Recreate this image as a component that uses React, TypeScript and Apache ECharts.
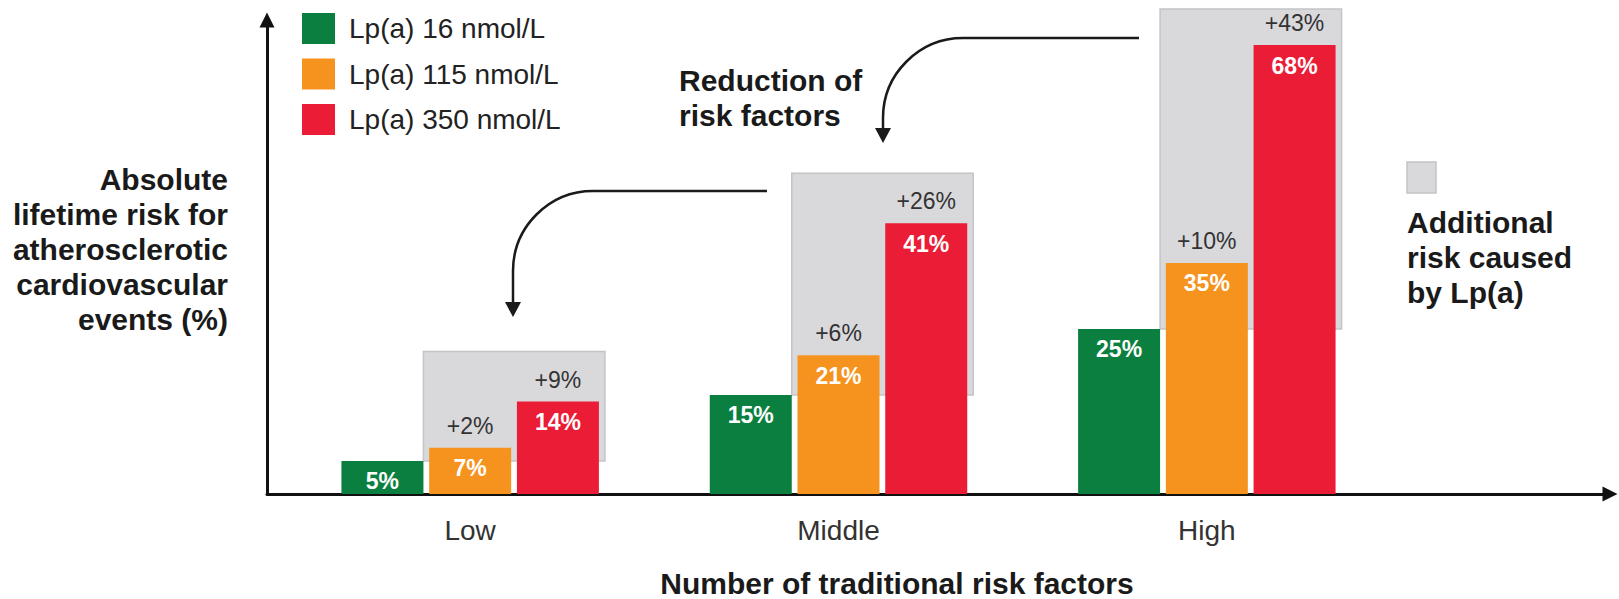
import React, { useEffect, useRef } from "react";
import * as echarts from "echarts";

const categories = ["Low", "Middle", "High"];
const seriesNames = ["Lp(a) 16 nmol/L", "Lp(a) 115 nmol/L", "Lp(a) 350 nmol/L"];
const lp16 = [5, 15, 25];
const lp115 = [7, 21, 35];
const lp350 = [14, 41, 68];
const colors = ["#0b7f40", "#f6921e", "#ea1c36"];
const yTitleLines = ["Absolute", "lifetime risk for", "atherosclerotic", "cardiovascular", "events (%)"];
const xTitle = "Number of traditional risk factors";
const noteLines = ["Reduction of", "risk factors"];
const extraLegendLines = ["Additional", "risk caused", "by Lp(a)"];

const FONT = '"Liberation Sans", Arial, Helvetica, sans-serif';
const BAR_W = 82;
const GAP_PCT = 7;
const GAP = (BAR_W * GAP_PCT) / 100;
const GROUP_W = BAR_W * 3 + GAP * 2;

export default function App() {
  const ref = useRef<HTMLDivElement>(null);
  useEffect(() => {
    if (!ref.current) return;
    const chart = echarts.init(ref.current, null, { renderer: "svg" });
    const allValues = [lp16, lp115, lp350];
    const boxData = categories.map((_, i) => [i, lp16[i], lp115[i], lp350[i]]);

    const option: any = {
      animation: false,
      backgroundColor: "#ffffff",
      textStyle: { fontFamily: FONT },
      legend: {
        data: seriesNames,
        orient: "vertical",
        left: 302,
        top: 13,
        padding: 0,
        itemWidth: 33,
        itemHeight: 31,
        itemGap: 14.5,
        icon: "rect",
        selectedMode: false,
        textStyle: { fontSize: 28, color: "#222", fontFamily: FONT, padding: [0, 0, 0, 9] },
      },
      grid: [
        { left: 286, right: 228, top: 12, bottom: 105, containLabel: false, outerBoundsMode: "none" },
        { left: 267, right: 9, top: 20, bottom: 105, containLabel: false, outerBoundsMode: "none" },
      ],
      xAxis: [
        {
          gridIndex: 0,
          type: "category",
          data: categories,
          axisLine: { show: false },
          axisTick: { show: false },
          axisLabel: { fontSize: 28, color: "#333", margin: 22, fontFamily: FONT },
          name: xTitle,
          nameLocation: "middle",
          nameGap: 77,
          nameTextStyle: {
            fontSize: 30,
            fontWeight: "bold",
            lineHeight: 24,
            color: "#1a1a1a",
            padding: [0, 0, 0, 117],
            fontFamily: FONT,
          },
        },
        {
          gridIndex: 1,
          type: "value",
          min: 0,
          max: 1,
          axisLine: { show: true, symbol: ["none", "triangle"], symbolSize: [15, 15], lineStyle: { color: "#111", width: 3 } },
          axisTick: { show: false },
          axisLabel: { show: false },
          splitLine: { show: false },
        },
      ],
      yAxis: [
        {
          gridIndex: 0,
          type: "value",
          min: 0,
          max: 73,
          show: false,
        },
        {
          gridIndex: 1,
          type: "value",
          min: 0,
          max: 1,
          axisLine: { show: true, symbol: ["none", "triangle"], symbolSize: [15, 15], lineStyle: { color: "#111", width: 3 } },
          axisTick: { show: false },
          axisLabel: { show: false },
          splitLine: { show: false },
        },
      ],
      series: [
        {
          type: "custom",
          name: "Additional risk caused by Lp(a)",
          xAxisIndex: 0,
          yAxisIndex: 0,
          z: 1,
          encode: { x: 0, y: 3 },
          data: boxData,
          renderItem: (params: any, api: any) => {
            const i = api.value(0);
            const g = api.value(1);
            const o = api.value(2);
            const r = api.value(3);
            const pG = api.coord([i, g]);
            const cx = pG[0];
            const yG = pG[1];
            const yO = api.coord([i, o])[1];
            const yR = api.coord([i, r])[1];
            const left = cx - GROUP_W / 2 + BAR_W;
            const right = cx + GROUP_W / 2 + 6;
            const top = Math.max(yR - 50, 9);
            const redCx = cx + BAR_W + GAP;
            return {
              type: "group",
              children: [
                {
                  type: "rect",
                  shape: { x: left, y: top, width: right - left, height: yG - top },
                  style: { fill: "#d9d9dc", stroke: "#c4c4c7", lineWidth: 1.5 },
                },
                {
                  type: "text",
                  x: cx,
                  y: yO - 22,
                  style: { text: "+" + (o - g) + "%", fill: "#333", fontSize: 23, fontFamily: FONT, align: "center", verticalAlign: "middle" },
                },
                {
                  type: "text",
                  x: redCx,
                  y: yR - 22,
                  style: { text: "+" + (r - g) + "%", fill: "#333", fontSize: 23, fontFamily: FONT, align: "center", verticalAlign: "middle" },
                },
              ],
            };
          },
        },
        ...seriesNames.map((name, s) => ({
          type: "bar",
          name,
          xAxisIndex: 0,
          yAxisIndex: 0,
          z: 2,
          data: allValues[s],
          barWidth: BAR_W,
          barGap: GAP_PCT + "%",
          itemStyle: { color: colors[s] },
          label: {
            show: true,
            position: "insideTop",
            distance: 9,
            color: "#ffffff",
            fontWeight: "bold",
            fontSize: 23,
            fontFamily: FONT,
            formatter: "{c}%",
          },
        })),
      ],
      graphic: [
        {
          type: "text",
          x: 228,
          y: 162,
          style: {
            text: yTitleLines.join("\n"),
            fontSize: 30,
            fontWeight: "bold",
            lineHeight: 35,
            fill: "#1a1a1a",
            fontFamily: FONT,
            align: "right",
            verticalAlign: "top",
          },
        },
        {
          type: "text",
          left: 679,
          top: 63,
          style: { text: noteLines.join("\n"), fontSize: 30, fontWeight: "bold", lineHeight: 35, fill: "#1a1a1a", fontFamily: FONT },
        },
        { type: "line", shape: { x1: 1139, y1: 38, x2: 963, y2: 38 }, style: { stroke: "#1a1a1a", lineWidth: 2.5 } },
        {
          type: "bezierCurve",
          shape: { x1: 963, y1: 38, cpx1: 919, cpy1: 38, cpx2: 883, cpy2: 74, x2: 883, y2: 118 },
          style: { stroke: "#1a1a1a", lineWidth: 2.5, fill: "none" },
        },
        { type: "line", shape: { x1: 883, y1: 118, x2: 883, y2: 130 }, style: { stroke: "#1a1a1a", lineWidth: 2.5 } },
        { type: "polygon", shape: { points: [[875, 128], [891, 128], [883, 143]] }, style: { fill: "#1a1a1a" } },
        { type: "line", shape: { x1: 767, y1: 191, x2: 593, y2: 191 }, style: { stroke: "#1a1a1a", lineWidth: 2.5 } },
        {
          type: "bezierCurve",
          shape: { x1: 593, y1: 191, cpx1: 549, cpy1: 191, cpx2: 513, cpy2: 227, x2: 513, y2: 271 },
          style: { stroke: "#1a1a1a", lineWidth: 2.5, fill: "none" },
        },
        { type: "line", shape: { x1: 513, y1: 271, x2: 513, y2: 304 }, style: { stroke: "#1a1a1a", lineWidth: 2.5 } },
        { type: "polygon", shape: { points: [[505, 302], [521, 302], [513, 317]] }, style: { fill: "#1a1a1a" } },
        {
          type: "rect",
          shape: { x: 1407, y: 162, width: 29, height: 31 },
          style: { fill: "#d9d9dc", stroke: "#c4c4c7", lineWidth: 1.5 },
        },
        {
          type: "text",
          left: 1407,
          top: 205,
          style: { text: extraLegendLines.join("\n"), fontSize: 30, fontWeight: "bold", lineHeight: 35, fill: "#1a1a1a", fontFamily: FONT },
        },
      ],
    };
    chart.setOption(option);
    return () => chart.dispose();
  }, []);
  return <div ref={ref} style={{ position: "fixed", left: 0, top: 0, width: 1619, height: 599 }} />;
}
